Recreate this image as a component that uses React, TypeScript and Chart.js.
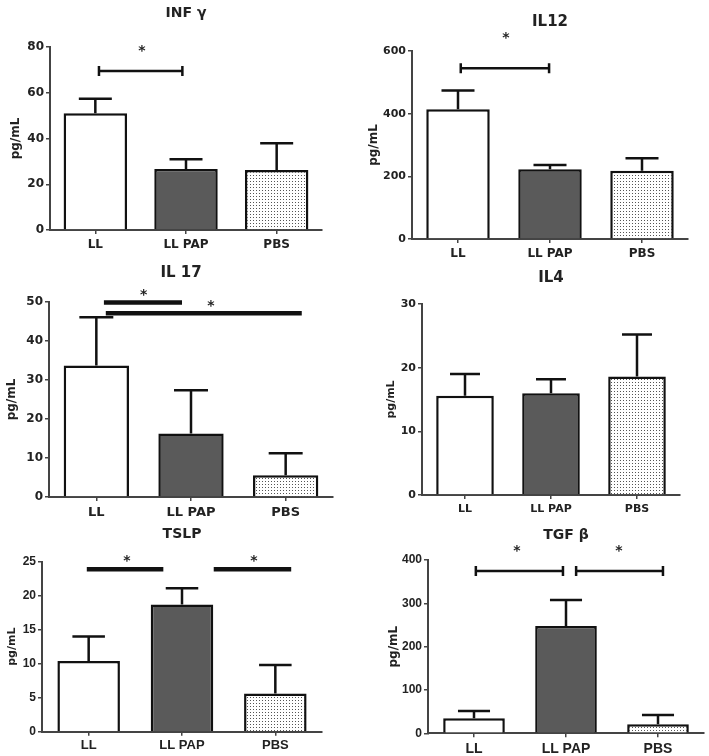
import React, { useEffect, useRef } from "react";
import { Chart, registerables } from "chart.js";

Chart.register(...registerables);

const groups = ["LL", "LL PAP", "PBS"];

const infgMean = [51, 26.7, 26.2];
const infgErr = [6.4, 4.2, 11.7];
const il12Mean = [414, 223, 218];
const il12Err = [60, 13, 40];
const il17Mean = [33.7, 16.3, 5.6];
const il17Err = [12.4, 11.1, 5.6];
const il4Mean = [15.6, 16.0, 18.6];
const il4Err = [3.4, 2.2, 6.6];
const tslpMean = [10.4, 18.7, 5.6];
const tslpErr = [3.6, 2.4, 4.2];
const tgfbMean = [34.6, 247.6, 20.8];
const tgfbErr = [17, 60, 21.5];

// significance marks: x in category-index units, y in data units
const infgSig = [{ x0: 0.04, x1: 0.96, y: 69.5, caps: true, lw: 2.5 }];
const infgStars = [{ x: 0.515, y: 79.6 }];
const il12Sig = [{ x0: 0.03, x1: 0.99, y: 545, caps: true, lw: 2.5 }];
const il12Stars = [{ x: 0.52, y: 651 }];
const il17Sig = [
  { x0: 0.08, x1: 0.905, y: 49.9, caps: false, lw: 4.5 },
  { x0: 0.1, x1: 2.17, y: 47.1, caps: false, lw: 4.5 },
];
const il17Stars = [
  { x: 0.5, y: 52.6 },
  { x: 1.21, y: 49.7 },
];
const tslpSig = [
  { x0: -0.02, x1: 0.8, y: 23.9, caps: false, lw: 4.5 },
  { x0: 1.34, x1: 2.17, y: 23.9, caps: false, lw: 4.5 },
];
const tslpStars = [
  { x: 0.41, y: 25.5 },
  { x: 1.77, y: 25.5 },
];
const tgfbSig = [
  { x0: 0.02, x1: 0.967, y: 374.6, caps: true, lw: 2.5 },
  { x0: 1.11, x1: 2.054, y: 374.6, caps: true, lw: 2.5 },
];
const tgfbStars = [
  { x: 0.467, y: 427.7 },
  { x: 1.576, y: 427.7 },
];

const FONT = "'DejaVu Sans', 'Liberation Sans', Arial, sans-serif";
const ARIAL = "'Liberation Sans', Arial, sans-serif";

type Panel = {
  title: string;
  titleDx: number;
  titleOff: number;
  titleSize: number;
  mean: number[];
  err: number[];
  max: number;
  step: number;
  sig: { x0: number; x1: number; y: number; caps: boolean; lw: number }[];
  stars: { x: number; y: number }[];
  left: number;
  top: number;
  w: number;
  h: number;
  yWidth: number;
  padTop: number;
  padRight: number;
  xHeight: number;
  barPct: number;
  tickSize: number;
  tickFamily: string;
  labelSize: number;
  labelFamily: string;
  labelPad: number;
  yTitlePad: number;
  yTitleSize: number;
};

const panels: Panel[] = [
  {
    title: "INF γ", titleDx: 0, titleOff: 34, titleSize: 14,
    mean: infgMean, err: infgErr, max: 80, step: 20, sig: infgSig, stars: infgStars,
    left: 0, top: 0, w: 345, h: 256, yWidth: 50, padTop: 47, padRight: 23, xHeight: 26,
    barPct: 0.7, tickSize: 12, tickFamily: FONT, labelSize: 12, labelFamily: FONT, labelPad: 4,
    yTitlePad: 9, yTitleSize: 12,
  },
  {
    title: "IL12", titleDx: 0, titleOff: 29, titleSize: 15,
    mean: il12Mean, err: il12Err, max: 600, step: 200, sig: il12Sig, stars: il12Stars,
    left: 355, top: 0, w: 354, h: 265, yWidth: 57, padTop: 51, padRight: 21, xHeight: 26,
    barPct: 0.69, tickSize: 11, tickFamily: FONT, labelSize: 12, labelFamily: FONT, labelPad: 4,
    yTitlePad: 12, yTitleSize: 12,
  },
  {
    title: "IL 17", titleDx: -10, titleOff: 29, titleSize: 15,
    mean: il17Mean, err: il17Err, max: 50, step: 10, sig: il17Sig, stars: il17Stars,
    left: 0, top: 255, w: 345, h: 270, yWidth: 49, padTop: 47, padRight: 12, xHeight: 28,
    barPct: 0.69, tickSize: 12, tickFamily: FONT, labelSize: 13, labelFamily: FONT, labelPad: 4,
    yTitlePad: 5, yTitleSize: 12,
  },
  {
    title: "IL4", titleDx: 0, titleOff: 26, titleSize: 15,
    mean: il4Mean, err: il4Err, max: 30, step: 10, sig: [], stars: [],
    left: 355, top: 255, w: 354, h: 268, yWidth: 67, padTop: 49, padRight: 29, xHeight: 28,
    barPct: 0.67, tickSize: 11, tickFamily: FONT, labelSize: 11, labelFamily: FONT, labelPad: 4,
    yTitlePad: 30, yTitleSize: 11,
  },
  {
    title: "TSLP", titleDx: 0, titleOff: 27, titleSize: 14,
    mean: tslpMean, err: tslpErr, max: 25, step: 5, sig: tslpSig, stars: tslpStars,
    left: 0, top: 510, w: 345, h: 246, yWidth: 42, padTop: 51.7, padRight: 23, xHeight: 24.3,
    barPct: 0.67, tickSize: 12, tickFamily: ARIAL, labelSize: 13, labelFamily: ARIAL, labelPad: 2,
    yTitlePad: 6, yTitleSize: 11,
  },
  {
    title: "TGF β", titleDx: 0, titleOff: 25, titleSize: 14,
    mean: tgfbMean, err: tgfbErr, max: 400, step: 100, sig: tgfbSig, stars: tgfbStars,
    left: 355, top: 510, w: 354, h: 246, yWidth: 73, padTop: 50, padRight: 5, xHeight: 22.7,
    barPct: 0.67, tickSize: 12, tickFamily: ARIAL, labelSize: 14, labelFamily: ARIAL, labelPad: 3,
    yTitlePad: 32, yTitleSize: 12,
  },
];

function makeDots(): CanvasPattern | string {
  const c = document.createElement("canvas");
  c.width = 3;
  c.height = 3;
  const g = c.getContext("2d");
  if (!g) return "#eee";
  g.fillStyle = "#ffffff";
  g.fillRect(0, 0, 3, 3);
  g.fillStyle = "#555555";
  g.fillRect(1, 1, 1, 1);
  return g.createPattern(c, "repeat") || "#eee";
}

const annotPlugin = {
  id: "annot",
  afterDatasetsDraw(chart: any, _args: any, opts: any) {
    const ctx = chart.ctx as CanvasRenderingContext2D;
    const xs = chart.scales.x;
    const ys = chart.scales.y;
    const meta = chart.getDatasetMeta(0);
    const x0p = xs.getPixelForValue(0);
    const band = xs.getPixelForValue(1) - x0p;
    const toX = (v: number) => x0p + v * band;
    ctx.save();
    ctx.strokeStyle = "#111";
    ctx.lineCap = "butt";
    // error bars
    meta.data.forEach((bar: any, i: number) => {
      const yTop = ys.getPixelForValue(opts.mean[i] + opts.err[i]);
      const x = bar.x;
      const half = bar.width * 0.26;
      ctx.lineWidth = 2.5;
      ctx.beginPath();
      ctx.moveTo(x, bar.y);
      ctx.lineTo(x, yTop);
      ctx.moveTo(x - half, yTop);
      ctx.lineTo(x + half, yTop);
      ctx.stroke();
    });
    // significance lines
    opts.sig.forEach((s: any) => {
      const y = ys.getPixelForValue(s.y);
      const a = toX(s.x0);
      const b = toX(s.x1);
      ctx.lineWidth = s.lw;
      ctx.beginPath();
      ctx.moveTo(a, y);
      ctx.lineTo(b, y);
      if (s.caps) {
        ctx.moveTo(a, y - 5);
        ctx.lineTo(a, y + 5);
        ctx.moveTo(b, y - 5);
        ctx.lineTo(b, y + 5);
      }
      ctx.stroke();
    });
    ctx.fillStyle = "#222";
    ctx.textAlign = "center";
    ctx.textBaseline = "middle";
    ctx.font = `bold 14px ${FONT}`;
    opts.stars.forEach((s: any) => {
      ctx.fillText("*", toX(s.x), ys.getPixelForValue(s.y) + 3);
    });
    // title
    const ca = chart.chartArea;
    ctx.font = `bold ${opts.titleSize}px ${FONT}`;
    ctx.fillStyle = "#222";
    ctx.fillText(opts.title, (ca.left + ca.right) / 2 + opts.titleDx, ca.top - opts.titleOff);
    ctx.restore();
  },
};

function PanelChart({ p }: { p: Panel }) {
  const ref = useRef<HTMLCanvasElement>(null);
  useEffect(() => {
    if (!ref.current) return;
    const dots = makeDots();
    const chart = new Chart(ref.current, {
      type: "bar",
      data: {
        labels: groups,
        datasets: [
          {
            data: p.mean,
            backgroundColor: ["#ffffff", "#5a5a5a", dots as any],
            borderColor: "#111",
            borderWidth: 2.5,
            barPercentage: p.barPct,
            categoryPercentage: 1,
          },
        ],
      },
      options: {
        animation: false,
        responsive: false,
        maintainAspectRatio: false,
        events: [],
        layout: { padding: { top: p.padTop, right: p.padRight, left: 0, bottom: 0 } },
        plugins: {
          legend: { display: false },
          tooltip: { enabled: false },
          title: { display: false },
          annot: {
            mean: p.mean,
            err: p.err,
            sig: p.sig,
            stars: p.stars,
            title: p.title,
            titleDx: p.titleDx,
            titleOff: p.titleOff,
            titleSize: p.titleSize,
          },
        } as any,
        scales: {
          x: {
            type: "category",
            offset: true,
            grid: {
              offset: false,
              drawOnChartArea: false,
              drawTicks: true,
              tickLength: 4,
              color: "#444",
              lineWidth: 1.5,
            },
            border: { display: true, color: "#444", width: 2 },
            ticks: {
              color: "#222",
              font: { family: p.labelFamily, size: p.labelSize, weight: "bold" },
              padding: p.labelPad,
              maxRotation: 0,
              autoSkip: false,
            },
            afterFit: (s: any) => {
              s.height = p.xHeight;
            },
          } as any,
          y: {
            min: 0,
            max: p.max,
            ticks: {
              stepSize: p.step,
              color: "#222",
              font: { family: p.tickFamily, size: p.tickSize, weight: "bold" },
              padding: 2,
            },
            grid: {
              drawOnChartArea: false,
              drawTicks: true,
              tickLength: 4,
              color: "#444",
              lineWidth: 1.5,
            },
            border: { display: true, color: "#444", width: 2 },
            title: {
              display: true,
              text: "pg/mL",
              color: "#222",
              font: { family: FONT, size: p.yTitleSize, weight: "bold" },
              padding: { top: p.yTitlePad, bottom: 0 },
            },
            afterFit: (s: any) => {
              s.width = p.yWidth;
            },
          } as any,
        },
      },
      plugins: [annotPlugin as any],
    });
    return () => chart.destroy();
  }, [p]);
  return (
    <canvas
      ref={ref}
      width={p.w}
      height={p.h}
      style={{ position: "absolute", left: p.left, top: p.top, width: p.w, height: p.h }}
    />
  );
}

export default function App() {
  return (
    <div style={{ position: "absolute", left: 0, top: 0, width: 709, height: 756, background: "#fff" }}>
      {panels.map((p, i) => (
        <PanelChart key={i} p={p} />
      ))}
    </div>
  );
}
